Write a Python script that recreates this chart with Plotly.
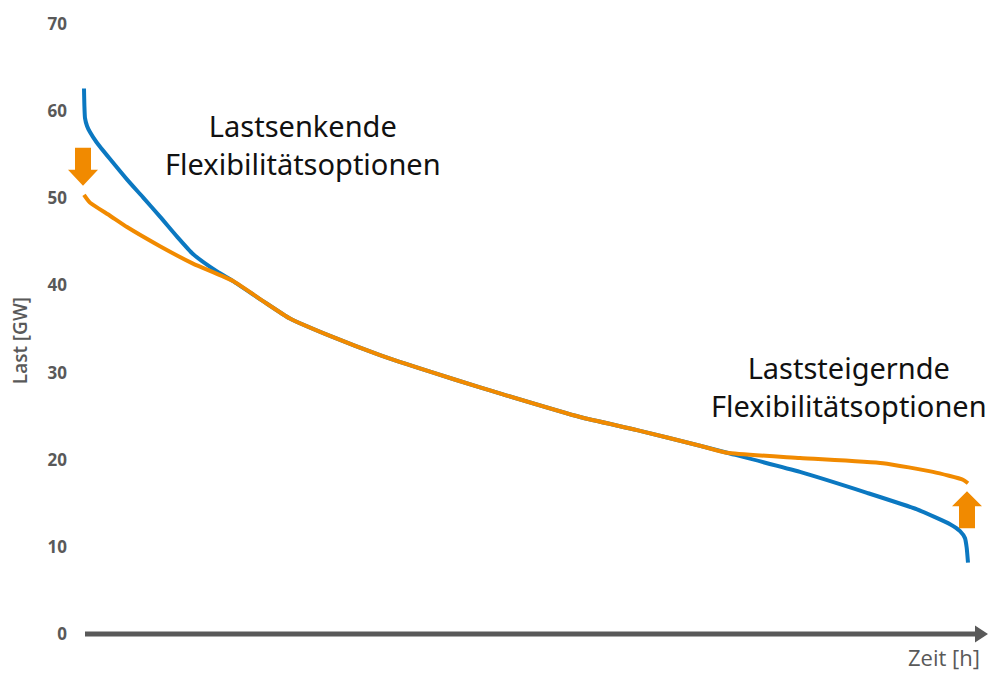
import plotly.graph_objects as go

# Load duration curves (hours of the year sorted by load, in GW)
base_hours = [0, 4, 10, 30, 59, 126, 258, 423, 585, 753, 922, 1080, 1318, 1477,
              1774, 2041, 2438, 2933, 3429, 3924, 4152, 4915, 5480, 6104, 6372,
              7095, 7759, 8255, 8582, 8681, 8730, 8747, 8760]
base_load = [62.6, 60.6, 59.2, 58.3, 57.6, 56.4, 54.5, 52.2, 50.1, 47.9, 45.6, 43.6, 41.6, 40.5,
             38.2, 36.2, 34.2, 32.0, 30.1, 28.3, 27.5, 24.9, 23.4, 21.6, 20.8,
             18.6, 16.2, 14.3, 12.6, 11.8, 11.0, 9.9, 8.2]

flex_hours = [0, 59, 258, 426, 753, 1080, 1477,
              1774, 2041, 2438, 2933, 3429, 3924, 4152, 4915, 5480, 6104, 6372,
              7095, 7918, 8413, 8710, 8760]
flex_load = [50.4, 49.5, 48.0, 46.7, 44.5, 42.5, 40.5,
             38.2, 36.2, 34.2, 32.0, 30.1, 28.3, 27.5, 24.9, 23.4, 21.6, 20.8,
             20.2, 19.6, 18.6, 17.7, 17.3]

y_ticks = [0, 10, 20, 30, 40, 50, 60, 70]

label_left = "Lastsenkende<br>Flexibilitätsoptionen"
label_right = "Laststeigernde<br>Flexibilitätsoptionen"
y_title = "Last [GW]"
x_title = "Zeit [h]"

BLUE = "#0B78C1"
ORANGE = "#F18A00"
GREY = "#595959"

# Plot area geometry (pixels)
W, H = 1001, 674
PLOT_L, PLOT_R = 68, 988
PLOT_T, PLOT_B = 18, 634
X0_PX, XEND_PX = 84, 968          # pixel positions of hour 0 and hour 8760
H_PER_PX = 8760 / (XEND_PX - X0_PX)
x_range = [-(X0_PX - PLOT_L) * H_PER_PX, (PLOT_R - X0_PX) * H_PER_PX]


def paper_x(px):
    return (px - PLOT_L) / (PLOT_R - PLOT_L)


fig = go.Figure()
fig.add_trace(go.Scatter(x=base_hours, y=base_load, mode="lines",
                         line=dict(color=BLUE, width=4, shape="spline", smoothing=0.5),
                         hoverinfo="skip"))
fig.add_trace(go.Scatter(x=flex_hours, y=flex_load, mode="lines",
                         line=dict(color=ORANGE, width=4, shape="spline", smoothing=0.5),
                         hoverinfo="skip"))

shapes = []
# time axis with arrow head
shapes.append(dict(type="line", xref="paper", yref="paper",
                   x0=paper_x(85), x1=paper_x(977), y0=0, y1=0,
                   line=dict(color=GREY, width=5)))
shapes.append(dict(type="path", xref="paper", yref="paper",
                   xsizemode="pixel", ysizemode="pixel", xanchor=paper_x(975), yanchor=0,
                   path="M 0,8.5 L 13,0 L 0,-8.5 Z",
                   fillcolor=GREY, line=dict(width=0)))

# block arrows at the start / end of the flexible curve
down_arrow = "M -9,47 L 7,47 L 7,25 L 14,25 L -1,9 L -16,25 L -9,25 Z"
up_arrow = "M -9,-45 L 7,-45 L 7,-23 L 14,-23 L -1,-8 L -16,-23 L -9,-23 Z"
shapes.append(dict(type="path", xref="x", yref="y",
                   xsizemode="pixel", ysizemode="pixel",
                   xanchor=flex_hours[0], yanchor=flex_load[0],
                   path=down_arrow, fillcolor=ORANGE, line=dict(width=0)))
shapes.append(dict(type="path", xref="x", yref="y",
                   xsizemode="pixel", ysizemode="pixel",
                   xanchor=flex_hours[-1], yanchor=flex_load[-1],
                   path=up_arrow, fillcolor=ORANGE, line=dict(width=0)))

big_font = dict(family="Noto Sans", size=29, color="#111111")
annotations = [
    dict(x=2170, y=56.2, text=label_left),
    dict(x=7581, y=28.35, text=label_right),
]
for a in annotations:
    a.update(xref="x", yref="y", showarrow=False, xanchor="center", yanchor="middle",
             align="center", font=big_font)

annotations.append(dict(xref="paper", yref="paper", x=paper_x(982), y=0, yshift=-23,
                        xanchor="right", yanchor="middle", showarrow=False, text=x_title,
                        font=dict(family="Open Sans", size=22, color=GREY)))
annotations.append(dict(xref="paper", yref="y", x=0, xshift=-48, y=33.6,
                        xanchor="center", yanchor="middle", showarrow=False,
                        text=y_title, textangle=-90,
                        font=dict(family="Open Sans", size=19, color=GREY, weight=600)))

fig.update_layout(
    width=W, height=H,
    margin=dict(l=PLOT_L, r=W - PLOT_R, t=PLOT_T, b=H - PLOT_B, pad=0),
    paper_bgcolor="white", plot_bgcolor="white",
    showlegend=False,
    shapes=shapes,
    annotations=annotations,
    xaxis=dict(range=x_range, showgrid=False, zeroline=False, showline=False,
               showticklabels=False, ticks=""),
    yaxis=dict(range=[0, 70], tickvals=y_ticks, ticktext=[str(v) for v in y_ticks],
               showgrid=False, zeroline=False, showline=False, ticks="",
               tickfont=dict(family="Open Sans", size=17, color=GREY, weight=700)),
)

fig.write_html("out.html")
